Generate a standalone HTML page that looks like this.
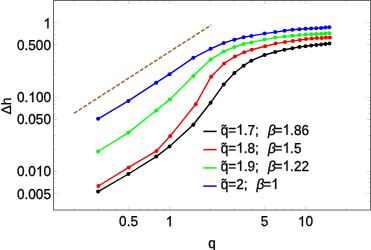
<!DOCTYPE html>
<html><head><meta charset="utf-8"><title>plot</title>
<style>
html,body{margin:0;padding:0;background:#fff;}
body{width:371px;height:250px;overflow:hidden;font-family:"Liberation Sans",sans-serif;}
svg{display:block;will-change:transform}
text{font-family:"Liberation Sans",sans-serif;font-size:13.6px;fill:#000;stroke:#000;stroke-width:0.3px;text-rendering:geometricPrecision}
.o{fill:none;stroke:none}
</style></head><body>
<svg width="371" height="250" viewBox="0 0 371 250">
<rect x="0" y="0" width="371" height="250" fill="#ffffff"/>
<path d="M74.50 210.05v-2.2M74.50 0.5v2.2M98.50 210.05v-2.2M98.50 0.5v2.2M115.50 210.05v-2.2M115.50 0.5v2.2M139.50 210.05v-2.2M139.50 0.5v2.2M148.50 210.05v-2.2M148.50 0.5v2.2M156.50 210.05v-2.2M156.50 0.5v2.2M163.50 210.05v-2.2M163.50 0.5v2.2M210.50 210.05v-2.2M210.50 0.5v2.2M234.50 210.05v-2.2M234.50 0.5v2.2M251.50 210.05v-2.2M251.50 0.5v2.2M275.50 210.05v-2.2M275.50 0.5v2.2M284.50 210.05v-2.2M284.50 0.5v2.2M292.50 210.05v-2.2M292.50 0.5v2.2M299.50 210.05v-2.2M299.50 0.5v2.2M346.50 210.05v-2.2M346.50 0.5v2.2M128.50 210.05v-3.6M128.50 0.5v3.6M169.50 210.05v-3.6M169.50 0.5v3.6M264.50 210.05v-3.6M264.50 0.5v3.6M305.50 210.05v-3.6M305.50 0.5v3.6M53.5 201.50h2.2M370.5 201.50h-2.2M53.5 187.50h2.2M370.5 187.50h-2.2M53.5 182.50h2.2M370.5 182.50h-2.2M53.5 178.50h2.2M370.5 178.50h-2.2M53.5 174.50h2.2M370.5 174.50h-2.2M53.5 149.50h2.2M370.5 149.50h-2.2M53.5 135.50h2.2M370.5 135.50h-2.2M53.5 126.50h2.2M370.5 126.50h-2.2M53.5 113.50h2.2M370.5 113.50h-2.2M53.5 108.50h2.2M370.5 108.50h-2.2M53.5 104.50h2.2M370.5 104.50h-2.2M53.5 100.50h2.2M370.5 100.50h-2.2M53.5 74.50h2.2M370.5 74.50h-2.2M53.5 61.50h2.2M370.5 61.50h-2.2M53.5 52.50h2.2M370.5 52.50h-2.2M53.5 39.50h2.2M370.5 39.50h-2.2M53.5 34.50h2.2M370.5 34.50h-2.2M53.5 29.50h2.2M370.5 29.50h-2.2M53.5 26.50h2.2M370.5 26.50h-2.2M53.5 193.50h3.6M370.5 193.50h-3.6M53.5 171.50h3.6M370.5 171.50h-3.6M53.5 119.50h3.6M370.5 119.50h-3.6M53.5 97.50h3.6M370.5 97.50h-3.6M53.5 44.50h3.6M370.5 44.50h-3.6M53.5 22.50h3.6M370.5 22.50h-3.6" stroke="#b0b0b0" stroke-width="0.5" fill="none"/>
<path d="M74.0 113.3L211.2 25.0" stroke="#996633" stroke-width="1.5" stroke-dasharray="4.0 1.6" fill="none"/>
<path d="M98.1 191.6L128.4 174.0L156.2 156.6L169.5 146.5L193.3 124.8L210.6 102.8L223.7 84.4L234.4 73.0L243.6 65.7L251.3 60.7L264.6 55.0L275.2 52.0L284.5 49.7L292.4 48.2L299.4 46.9L305.5 46.2L311.2 45.4L316.3 44.9L321.1 44.4L325.4 44.0L329.4 43.6" stroke="#000000" stroke-width="1.4" fill="none" stroke-linejoin="round"/>
<g fill="#000000"><circle cx="98.1" cy="191.6" r="2.0"/><circle cx="128.4" cy="174.0" r="2.0"/><circle cx="156.2" cy="156.6" r="2.0"/><circle cx="169.5" cy="146.5" r="2.0"/><circle cx="193.3" cy="124.8" r="2.0"/><circle cx="210.6" cy="102.8" r="2.0"/><circle cx="223.7" cy="84.4" r="2.0"/><circle cx="234.4" cy="73.0" r="2.0"/><circle cx="243.6" cy="65.7" r="2.0"/><circle cx="251.3" cy="60.7" r="2.0"/><circle cx="264.6" cy="55.0" r="2.0"/><circle cx="275.2" cy="52.0" r="2.0"/><circle cx="284.5" cy="49.7" r="2.0"/><circle cx="292.4" cy="48.2" r="2.0"/><circle cx="299.4" cy="46.9" r="2.0"/><circle cx="305.5" cy="46.2" r="2.0"/><circle cx="311.2" cy="45.4" r="2.0"/><circle cx="316.3" cy="44.9" r="2.0"/><circle cx="321.1" cy="44.4" r="2.0"/><circle cx="325.4" cy="44.0" r="2.0"/><circle cx="329.4" cy="43.6" r="2.0"/></g>
<path d="M98.4 186.0L128.7 167.4L156.5 150.9L170.2 136.1L195.7 104.3L211.1 76.7L224.2 63.4L234.9 56.6L244.1 52.3L251.8 49.7L265.1 46.2L275.7 43.6L285.0 42.1L292.9 40.9L299.9 39.9L306.0 39.1L311.7 38.6L316.8 38.1L321.6 37.9L325.9 37.6L329.9 37.4" stroke="#ff0000" stroke-width="1.4" fill="none" stroke-linejoin="round"/>
<g fill="#ff0000"><circle cx="98.4" cy="186.0" r="2.0"/><circle cx="128.7" cy="167.4" r="2.0"/><circle cx="156.5" cy="150.9" r="2.0"/><circle cx="170.2" cy="136.1" r="2.0"/><circle cx="195.7" cy="104.3" r="2.0"/><circle cx="211.1" cy="76.7" r="2.0"/><circle cx="224.2" cy="63.4" r="2.0"/><circle cx="234.9" cy="56.6" r="2.0"/><circle cx="244.1" cy="52.3" r="2.0"/><circle cx="251.8" cy="49.7" r="2.0"/><circle cx="265.1" cy="46.2" r="2.0"/><circle cx="275.7" cy="43.6" r="2.0"/><circle cx="285.0" cy="42.1" r="2.0"/><circle cx="292.9" cy="40.9" r="2.0"/><circle cx="299.9" cy="39.9" r="2.0"/><circle cx="306.0" cy="39.1" r="2.0"/><circle cx="311.7" cy="38.6" r="2.0"/><circle cx="316.8" cy="38.1" r="2.0"/><circle cx="321.6" cy="37.9" r="2.0"/><circle cx="325.9" cy="37.6" r="2.0"/><circle cx="329.9" cy="37.4" r="2.0"/></g>
<path d="M98.1 151.5L128.4 132.6L156.2 110.5L169.9 99.4L193.3 76.0L210.6 59.4L223.7 51.6L234.4 47.0L243.6 44.0L251.3 42.4L264.6 39.6L275.2 37.6L284.5 36.6L292.4 35.8L299.4 35.1L305.5 34.6L311.2 34.3L316.3 34.0L321.1 33.7L325.4 33.6L329.4 33.3" stroke="#00ff00" stroke-width="1.4" fill="none" stroke-linejoin="round"/>
<g fill="#00ff00"><circle cx="98.1" cy="151.5" r="2.0"/><circle cx="128.4" cy="132.6" r="2.0"/><circle cx="156.2" cy="110.5" r="2.0"/><circle cx="169.9" cy="99.4" r="2.0"/><circle cx="193.3" cy="76.0" r="2.0"/><circle cx="210.6" cy="59.4" r="2.0"/><circle cx="223.7" cy="51.6" r="2.0"/><circle cx="234.4" cy="47.0" r="2.0"/><circle cx="243.6" cy="44.0" r="2.0"/><circle cx="251.3" cy="42.4" r="2.0"/><circle cx="264.6" cy="39.6" r="2.0"/><circle cx="275.2" cy="37.6" r="2.0"/><circle cx="284.5" cy="36.6" r="2.0"/><circle cx="292.4" cy="35.8" r="2.0"/><circle cx="299.4" cy="35.1" r="2.0"/><circle cx="305.5" cy="34.6" r="2.0"/><circle cx="311.2" cy="34.3" r="2.0"/><circle cx="316.3" cy="34.0" r="2.0"/><circle cx="321.1" cy="33.7" r="2.0"/><circle cx="325.4" cy="33.6" r="2.0"/><circle cx="329.4" cy="33.3" r="2.0"/></g>
<path d="M98.1 118.8L128.4 100.9L156.2 82.7L169.6 74.2L193.3 57.8L210.6 48.8L223.7 43.0L234.4 39.7L243.6 37.2L251.3 35.9L264.6 33.6L275.2 32.1L284.5 30.8L292.4 29.8L299.4 29.3L305.5 28.8L311.2 28.5L316.3 28.3L321.1 28.0L325.4 27.5L329.4 27.2" stroke="#0000ff" stroke-width="1.4" fill="none" stroke-linejoin="round"/>
<g fill="#0000ff"><circle cx="98.1" cy="118.8" r="2.0"/><circle cx="128.4" cy="100.9" r="2.0"/><circle cx="156.2" cy="82.7" r="2.0"/><circle cx="169.6" cy="74.2" r="2.0"/><circle cx="193.3" cy="57.8" r="2.0"/><circle cx="210.6" cy="48.8" r="2.0"/><circle cx="223.7" cy="43.0" r="2.0"/><circle cx="234.4" cy="39.7" r="2.0"/><circle cx="243.6" cy="37.2" r="2.0"/><circle cx="251.3" cy="35.9" r="2.0"/><circle cx="264.6" cy="33.6" r="2.0"/><circle cx="275.2" cy="32.1" r="2.0"/><circle cx="284.5" cy="30.8" r="2.0"/><circle cx="292.4" cy="29.8" r="2.0"/><circle cx="299.4" cy="29.3" r="2.0"/><circle cx="305.5" cy="28.8" r="2.0"/><circle cx="311.2" cy="28.5" r="2.0"/><circle cx="316.3" cy="28.3" r="2.0"/><circle cx="321.1" cy="28.0" r="2.0"/><circle cx="325.4" cy="27.5" r="2.0"/><circle cx="329.4" cy="27.2" r="2.0"/></g>
<rect x="53.5" y="0.5" width="317.0" height="209.55" fill="none" stroke="#666666" stroke-width="1"/>
<text transform="translate(51,28.3) scale(1,1.06)" text-anchor="end"><tspan class="o">1</tspan></text>
<text transform="translate(51,50.2) scale(1,1.06)" text-anchor="end">0.500</text>
<text transform="translate(51,102.2) scale(1,1.06)" text-anchor="end">0.<tspan class="o">1</tspan>00</text>
<text transform="translate(51,124.2) scale(1,1.06)" text-anchor="end">0.050</text>
<text transform="translate(51,176.15) scale(1,1.06)" text-anchor="end">0.0<tspan class="o">1</tspan>0</text>
<text transform="translate(51,198.9) scale(1,1.06)" text-anchor="end">0.005</text>
<text transform="translate(128.56,226.3) scale(1,1.06)" text-anchor="middle">0.5</text>
<text transform="translate(169.50,226.3) scale(1,1.06)" text-anchor="middle"><tspan class="o">1</tspan></text>
<text transform="translate(264.56,226.3) scale(1,1.06)" text-anchor="middle">5</text>
<text transform="translate(305.50,226.3) scale(1,1.06)" text-anchor="middle"><tspan class="o">1</tspan>0</text>
<text transform="translate(212,247.8) scale(1,1.06)" text-anchor="middle">q</text>
<text transform="translate(10.5,106) rotate(-90) scale(1.025,1)" text-anchor="middle">Δh</text>
<path d="M203.3 131.4H216.6" stroke="#000000" stroke-width="1.5"/>
<text transform="translate(220.7,134.65) scale(1,1.06)" xml:space="preserve">q̃=<tspan class="o">1</tspan>.7;  <tspan font-style="italic" dx="1.5">β</tspan><tspan dx="-1.1">=<tspan class="o">1</tspan>.86</tspan></text>
<path d="M203.3 149.65H216.6" stroke="#ff0000" stroke-width="1.5"/>
<text transform="translate(220.7,152.80) scale(1,1.06)" xml:space="preserve">q̃=<tspan class="o">1</tspan>.8;  <tspan font-style="italic" dx="1.5">β</tspan><tspan dx="-1.1">=<tspan class="o">1</tspan>.5</tspan></text>
<path d="M203.3 167.9H216.6" stroke="#00ff00" stroke-width="1.5"/>
<text transform="translate(220.7,170.85) scale(1,1.06)" xml:space="preserve">q̃=<tspan class="o">1</tspan>.9;  <tspan font-style="italic" dx="1.5">β</tspan><tspan dx="-1.1">=<tspan class="o">1</tspan>.22</tspan></text>
<path d="M203.3 186.1H216.6" stroke="#0000ff" stroke-width="1.5"/>
<text transform="translate(220.7,188.90) scale(1,1.06)" xml:space="preserve">q̃=2;  <tspan font-style="italic" dx="1.5">β</tspan><tspan dx="-1.1">=<tspan class="o">1</tspan></tspan></text>
<g fill="#000" stroke="#000" stroke-width="0.3"><path transform="translate(43.44 28.30)" d="M5.07 0.00H3.87V-8.07Q3.44 -7.64 2.74 -7.20T1.48 -6.55V-7.77Q2.48 -8.27 3.22 -8.97T4.30 -10.32H5.07Z"/><path transform="translate(28.31 102.20)" d="M5.07 0.00H3.87V-8.07Q3.44 -7.64 2.74 -7.20T1.48 -6.55V-7.77Q2.48 -8.27 3.22 -8.97T4.30 -10.32H5.07Z"/><path transform="translate(35.88 176.15)" d="M5.07 0.00H3.87V-8.07Q3.44 -7.64 2.74 -7.20T1.48 -6.55V-7.77Q2.48 -8.27 3.22 -8.97T4.30 -10.32H5.07Z"/><path transform="translate(165.72 226.30)" d="M5.07 0.00H3.87V-8.07Q3.44 -7.64 2.74 -7.20T1.48 -6.55V-7.77Q2.48 -8.27 3.22 -8.97T4.30 -10.32H5.07Z"/><path transform="translate(297.94 226.30)" d="M5.07 0.00H3.87V-8.07Q3.44 -7.64 2.74 -7.20T1.48 -6.55V-7.77Q2.48 -8.27 3.22 -8.97T4.30 -10.32H5.07Z"/><path transform="translate(236.20 134.65)" d="M5.07 0.00H3.87V-8.07Q3.44 -7.64 2.74 -7.20T1.48 -6.55V-7.77Q2.48 -8.27 3.22 -8.97T4.30 -10.32H5.07Z"/><path transform="translate(282.57 134.65)" d="M5.07 0.00H3.87V-8.07Q3.44 -7.64 2.74 -7.20T1.48 -6.55V-7.77Q2.48 -8.27 3.22 -8.97T4.30 -10.32H5.07Z"/><path transform="translate(236.20 152.80)" d="M5.07 0.00H3.87V-8.07Q3.44 -7.64 2.74 -7.20T1.48 -6.55V-7.77Q2.48 -8.27 3.22 -8.97T4.30 -10.32H5.07Z"/><path transform="translate(282.57 152.80)" d="M5.07 0.00H3.87V-8.07Q3.44 -7.64 2.74 -7.20T1.48 -6.55V-7.77Q2.48 -8.27 3.22 -8.97T4.30 -10.32H5.07Z"/><path transform="translate(236.20 170.85)" d="M5.07 0.00H3.87V-8.07Q3.44 -7.64 2.74 -7.20T1.48 -6.55V-7.77Q2.48 -8.27 3.22 -8.97T4.30 -10.32H5.07Z"/><path transform="translate(282.57 170.85)" d="M5.07 0.00H3.87V-8.07Q3.44 -7.64 2.74 -7.20T1.48 -6.55V-7.77Q2.48 -8.27 3.22 -8.97T4.30 -10.32H5.07Z"/><path transform="translate(271.23 188.90)" d="M5.07 0.00H3.87V-8.07Q3.44 -7.64 2.74 -7.20T1.48 -6.55V-7.77Q2.48 -8.27 3.22 -8.97T4.30 -10.32H5.07Z"/></g>
</svg></body></html>
